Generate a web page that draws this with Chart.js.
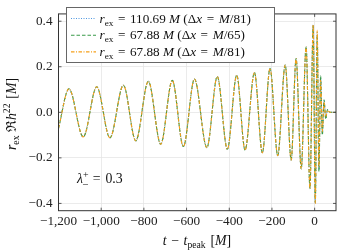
<!DOCTYPE html>
<html>
<head>
<meta charset="utf-8">
<script src="https://cdn.jsdelivr.net/npm/chart.js@4.4.0/dist/chart.umd.min.js"></script>
<style>
  html, body { margin: 0; padding: 0; background: #fff; }
</style>
</head>
<body>
<canvas id="chart" width="337" height="252"></canvas>
<script>
// extrema of the waveform, t - t_peak in M
const tPoints = [-1200, -1151, -1084, -1021, -959, -896, -838, -779, -721, -667, -615, -563, -505, -456,
  -409, -365, -326, -282, -245, -209, -173, -138, -110, -87, -63, -40, -22, -7, 3, 12, 20, 28, 36, 44, 52, 60, 72, 100];

const hFarFine = [-0.07, 0.103, -0.108, 0.112, -0.112, 0.119, -0.125, 0.136, -0.14, 0.14, -0.15, 0.146, -0.155, 0.157,
  -0.162, 0.163, -0.166, 0.175, -0.178, 0.193, -0.19, 0.208, -0.21, 0.236, -0.248, 0.288, -0.335, 0.384, -0.40, 0.35, -0.25, 0.15, -0.09, 0.05, -0.025, 0.01, 0, 0];
const hNearCoarse = [-0.07, 0.103, -0.108, 0.112, -0.112, 0.119, -0.125, 0.136, -0.14, 0.14, -0.15, 0.146, -0.155, 0.157,
  -0.162, 0.163, -0.166, 0.175, -0.178, 0.193, -0.19, 0.208, -0.21, 0.236, -0.248, 0.288, -0.335, 0.38, -0.395, 0.34, -0.26, 0.16, -0.1, 0.055, -0.03, 0.012, 0, 0];
const hNearFine = [-0.07, 0.103, -0.108, 0.112, -0.112, 0.119, -0.125, 0.136, -0.14, 0.14, -0.15, 0.146, -0.155, 0.157,
  -0.162, 0.163, -0.166, 0.175, -0.178, 0.193, -0.19, 0.208, -0.21, 0.236, -0.248, 0.288, -0.335, 0.385, -0.40, 0.36, -0.24, 0.14, -0.085, 0.045, -0.02, 0.008, 0, 0];

const radii = ['110.69', '67.88', '67.88'];
const resolutions = ['81', '65', '81'];
const colors = ['#4f97e0', '#3a9a4a', '#f5a01a'];
const dashes = [[1, 1.5], [3.5, 2], [3.5, 1.5, 1, 1.5]];

const xTicks = [-1200, -1000, -800, -600, -400, -200, 0];
const yTicks = [-0.4, -0.2, 0, 0.2, 0.4];

const SERIF = '"Liberation Serif", "DejaVu Serif", serif';
const FS = 13.2;

function fmtX(v) {
  return (v < 0 ? '\u2212' : '') + Math.abs(v).toLocaleString('en-US');
}
function fmtY(v) {
  return (v < 0 ? '\u2212' : '') + Math.abs(v).toFixed(1);
}

// draws a run of text pieces: i = italic, s = size factor, d = baseline shift (em), k = keep x, g = extra gap (em)
function richText(ctx, parts, x, y, size, measureOnly) {
  let cx = x;
  for (const p of parts) {
    const s = size * (p.s || 1);
    ctx.font = (p.i ? 'italic ' : '') + s + 'px ' + SERIF;
    if (!measureOnly) ctx.fillText(p.t, cx + (p.pre || 0) * size, y + (p.d || 0) * size);
    if (!p.k) cx += ctx.measureText(p.t).width + ((p.g || 0) + (p.pre || 0)) * size;
  }
  return cx - x;
}

const EQ = { t: ' = ', pre: 0.1, g: 0.1 };

function legendParts(i) {
  return [
    { t: 'r', i: 1 }, { t: 'ex', s: 0.7, d: 0.22 }, EQ, { t: radii[i] + ' ' }, { t: 'M', i: 1 },
    { t: ' (' }, { t: '\u0394' }, { t: 'x', i: 1 }, EQ, { t: 'M', i: 1 }, { t: '/' + resolutions[i] + ')' }
  ];
}

const decor = {
  id: 'decor',
  afterDraw(chart) {
    const ctx = chart.ctx;
    const a = chart.chartArea;
    const xs = chart.scales.x, ys = chart.scales.y;
    ctx.save();

    // tick marks inside the frame
    ctx.strokeStyle = '#333';
    ctx.lineWidth = 0.8;
    ctx.beginPath();
    xTicks.forEach(v => {
      const px = xs.getPixelForValue(v);
      ctx.moveTo(px, a.bottom); ctx.lineTo(px, a.bottom - 3);
      ctx.moveTo(px, a.top); ctx.lineTo(px, a.top + 3);
    });
    yTicks.forEach(v => {
      const py = ys.getPixelForValue(v);
      ctx.moveTo(a.left, py); ctx.lineTo(a.left + 3, py);
      ctx.moveTo(a.right, py); ctx.lineTo(a.right - 3, py);
    });
    ctx.stroke();

    // frame
    ctx.strokeStyle = '#333';
    ctx.lineWidth = 1;
    ctx.strokeRect(a.left, a.top, a.right - a.left, a.bottom - a.top);

    // legend
    const lx = 66.5, ly = 7.5, lw = 208, lh = 55;
    ctx.fillStyle = '#fff';
    ctx.fillRect(lx, ly, lw, lh);
    ctx.strokeStyle = '#666';
    ctx.strokeRect(lx, ly, lw, lh);
    ctx.fillStyle = '#111';
    ctx.textBaseline = 'alphabetic';
    [0, 1, 2].forEach(i => {
      const ry = 18.5 + i * 16.7;
      ctx.save();
      ctx.strokeStyle = colors[i];
      ctx.lineWidth = 1.1;
      ctx.setLineDash(dashes[i]);
      ctx.beginPath();
      ctx.moveTo(71, ry); ctx.lineTo(96, ry);
      ctx.stroke();
      ctx.restore();
      richText(ctx, legendParts(i), 99.5, ry + 4.2, FS);
    });

    // annotation: lambda with stacked + / - indices
    const lam = [{ t: '\u03bb', i: 1 }, { t: '+', s: 0.72, d: -0.36, k: 1 }, { t: '\u2013', s: 0.72, d: 0.3 }, EQ, { t: '0.3' }];
    richText(ctx, lam, 77, 182.5, 13.8);

    // x title
    const xParts = [{ t: 't', i: 1 }, { t: ' \u2212 ', pre: 0.08, g: 0.08 }, { t: 't', i: 1 }, { t: 'peak', s: 0.7, d: 0.22 }, { t: ' [', pre: 0.1 }, { t: 'M', i: 1 }, { t: ']' }];
    const xw = richText(ctx, xParts, 0, 0, 13.8, true);
    richText(ctx, xParts, 197 - xw / 2, 245, 13.8);

    // y title
    const yParts = [{ t: 'r', i: 1 }, { t: 'ex', s: 0.7, d: 0.22 }, { t: ' \u211c' }, { t: 'h', i: 1 }, { t: '22', s: 0.7, d: -0.4 }, { t: ' [', pre: 0.1 }, { t: 'M', i: 1 }, { t: ']' }];
    const yw = richText(ctx, yParts, 0, 0, 13.8, true);
    ctx.translate(16, 114);
    ctx.rotate(-Math.PI / 2);
    richText(ctx, yParts, -yw / 2, 0, 13.8);

    ctx.restore();
  }
};

const seriesValues = [hFarFine, hNearCoarse, hNearFine];
const datasets = seriesValues.map((vals, i) => ({
  label: 'r_ex = ' + radii[i] + ' M (\u0394x = M/' + resolutions[i] + ')',
  data: tPoints.map((t, j) => ({ x: t, y: vals[j] })),
  borderColor: colors[i],
  borderWidth: 1.1,
  borderDash: dashes[i],
  pointRadius: 0,
  fill: false,
  cubicInterpolationMode: 'monotone',
  order: 2 - i
}));

new Chart(document.getElementById('chart').getContext('2d'), {
  type: 'line',
  data: { datasets },
  plugins: [decor],
  options: {
    responsive: false,
    animation: false,
    devicePixelRatio: 1,
    layout: { padding: { top: 1, right: 1, left: 0, bottom: 0 } },
    plugins: { legend: { display: false }, tooltip: { enabled: false } },
    scales: {
      x: {
        type: 'linear',
        min: -1200,
        max: 100,
        afterBuildTicks: s => { s.ticks = xTicks.map(v => ({ value: v })); },
        afterFit: s => { s.height = 41.3; },
        border: { display: false },
        grid: { color: '#e6e6e6', lineWidth: 0.8, drawTicks: false },
        ticks: { color: '#222', padding: 3, maxRotation: 0, autoSkip: false, font: { family: SERIF, size: FS }, callback: v => fmtX(v) }
      },
      y: {
        min: -0.432,
        max: 0.432,
        afterBuildTicks: s => { s.ticks = yTicks.map(v => ({ value: v })); },
        afterFit: s => { s.width = 58.5; },
        border: { display: false },
        grid: { color: '#e6e6e6', lineWidth: 0.8, drawTicks: false },
        ticks: { color: '#222', padding: 6, autoSkip: false, font: { family: SERIF, size: FS }, callback: v => fmtY(v) }
      }
    }
  }
});
</script>
</body>
</html>
